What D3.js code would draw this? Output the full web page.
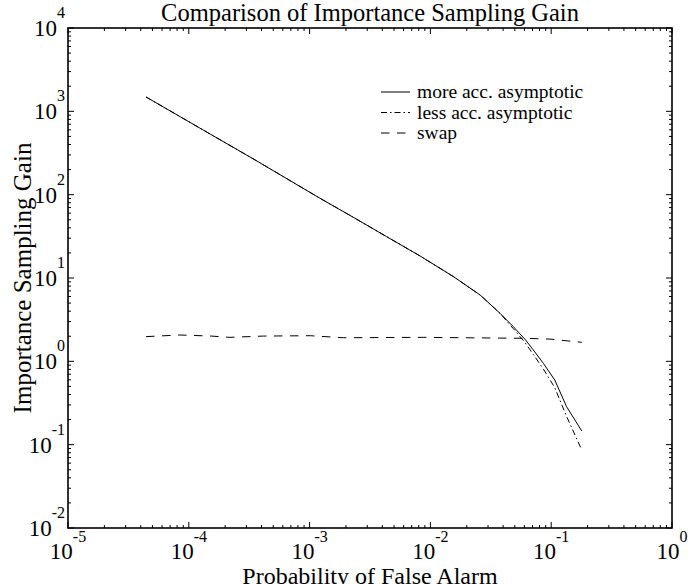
<!DOCTYPE html>
<html>
<head>
<meta charset="utf-8">
<script src="https://cdn.jsdelivr.net/npm/d3@7"></script>
<style>
  body { margin: 0; background: #fff; }
  text { font-family: "Liberation Serif", "Times New Roman", serif; fill: #000; }
</style>
</head>
<body>
<svg id="chart" width="688" height="584"></svg>
<script>
// values (probability of false alarm vs gain)
const pfa = [4.43e-5, 1.19e-4, 3.67e-4, 1.22e-3, 2.30e-3, 4.35e-3, 8.20e-3, 1.55e-2,
             2.58e-2, 3.77e-2, 4.85e-2, 6.07e-2, 7.11e-2, 8.61e-2, 0.107, 0.134, 0.179];
const moreAcc = [1486, 649, 253, 90.4, 53.5, 31.3, 18.4, 10.4,
                 6.25, 3.77, 2.61, 1.84, 1.37, 0.946, 0.597, 0.286, 0.146];
const lessAcc = [1486, 649, 253, 90.4, 53.5, 31.3, 18.4, 10.4,
                 6.25, 3.77, 2.47, 1.68, 1.21, 0.809, 0.484, 0.219, 0.0863];
const swapPfa = [4.43e-5, 8.45e-5, 1.53e-4, 2.19e-4, 4.14e-4, 1.01e-3, 1.90e-3,
                 8.73e-3, 5.87e-2, 9.77e-2, 0.179];
const swapGain = [1.98, 2.07, 2.01, 1.94, 2.01, 2.03, 1.92, 1.94, 1.89, 1.85, 1.69];

const xExps = [-5, -4, -3, -2, -1, 0];
const yExps = [-2, -1, 0, 1, 2, 3, 4];
const legendNames = ["more acc. asymptotic", "less acc. asymptotic", "swap"];
const dashes = [null, "6,3,1.5,3", "8.5,7.5"];

const W = 688, H = 584;
const margin = {top: 28, right: 16, bottom: 56, left: 68};

const svg = d3.select("#chart");

const x0 = margin.left, x1 = W - margin.right;
const y0 = H - margin.bottom, y1 = margin.top;

const x = d3.scaleLog().domain([1e-5, 1]).range([x0, x1]);
const y = d3.scaleLog().domain([1e-2, 1e4]).range([y0, y1]);

// ticks, inward on all four sides
function isMajor(v) {
    return Math.abs(Math.log10(v) - Math.round(Math.log10(v))) < 1e-9;
}
const tk = svg.append("g").attr("stroke", "#000").attr("stroke-width", 1);
x.ticks().forEach(function(v) {
    const len = isMajor(v) ? 6 : 3;
    const px = x(v);
    tk.append("line").attr("x1", px).attr("x2", px).attr("y1", y0).attr("y2", y0 - len);
    tk.append("line").attr("x1", px).attr("x2", px).attr("y1", y1).attr("y2", y1 + len);
});
y.ticks().forEach(function(v) {
    const len = isMajor(v) ? 6 : 3;
    const py = y(v);
    tk.append("line").attr("y1", py).attr("y2", py).attr("x1", x0).attr("x2", x0 + len);
    tk.append("line").attr("y1", py).attr("y2", py).attr("x1", x1).attr("x2", x1 - len);
});

// box
svg.append("rect")
    .attr("x", x0).attr("y", y1)
    .attr("width", x1 - x0).attr("height", y0 - y1)
    .attr("fill", "none").attr("stroke", "#000").attr("stroke-width", 1.6);

// tick labels
xExps.forEach(function(e) {
    const t = svg.append("text")
        .attr("x", x(Math.pow(10, e))).attr("y", y0 + 31)
        .attr("text-anchor", "middle").style("font-size", "23px");
    t.append("tspan").text("10");
    t.append("tspan").attr("dy", -17).style("font-size", "16px").text(e);
});
yExps.forEach(function(e) {
    const t = svg.append("text")
        .attr("x", x0 - 3).attr("y", y(Math.pow(10, e)) + 8)
        .attr("text-anchor", "end").style("font-size", "23px");
    t.append("tspan").text("10");
    t.append("tspan").attr("dy", -18).style("font-size", "16px").text(e);
});

// series
const line = d3.line().x(d => x(d[0])).y(d => y(d[1]));
const series = [
    d3.zip(pfa, moreAcc),
    d3.zip(pfa, lessAcc),
    d3.zip(swapPfa, swapGain)
];
series.forEach(function(s, i) {
    svg.append("path")
        .datum(s)
        .attr("d", line)
        .attr("fill", "none")
        .attr("stroke", "#000")
        .attr("stroke-width", 1)
        .attr("stroke-dasharray", dashes[i]);
});

// legend
legendNames.forEach(function(name, i) {
    const ly = 92 + i * 20.5;
    svg.append("line")
        .attr("x1", 381).attr("x2", 410).attr("y1", ly).attr("y2", ly)
        .attr("stroke", "#000").attr("stroke-width", 1)
        .attr("stroke-dasharray", dashes[i]);
    svg.append("text")
        .attr("x", 417).attr("y", ly + 6)
        .style("font-size", "19.5px")
        .text(name);
});

// titles
svg.append("text")
    .attr("x", (x0 + x1) / 2).attr("y", 21)
    .attr("text-anchor", "middle").style("font-size", "24.5px")
    .text("Comparison of Importance Sampling Gain");

svg.append("text")
    .attr("x", (x0 + x1) / 2).attr("y", 584)
    .attr("text-anchor", "middle").style("font-size", "24px")
    .text("Probability of False Alarm");

svg.append("text")
    .attr("transform", "translate(31," + ((y0 + y1) / 2) + ") rotate(-90)")
    .attr("text-anchor", "middle").style("font-size", "25px")
    .text("Importance Sampling Gain");
</script>
</body>
</html>
